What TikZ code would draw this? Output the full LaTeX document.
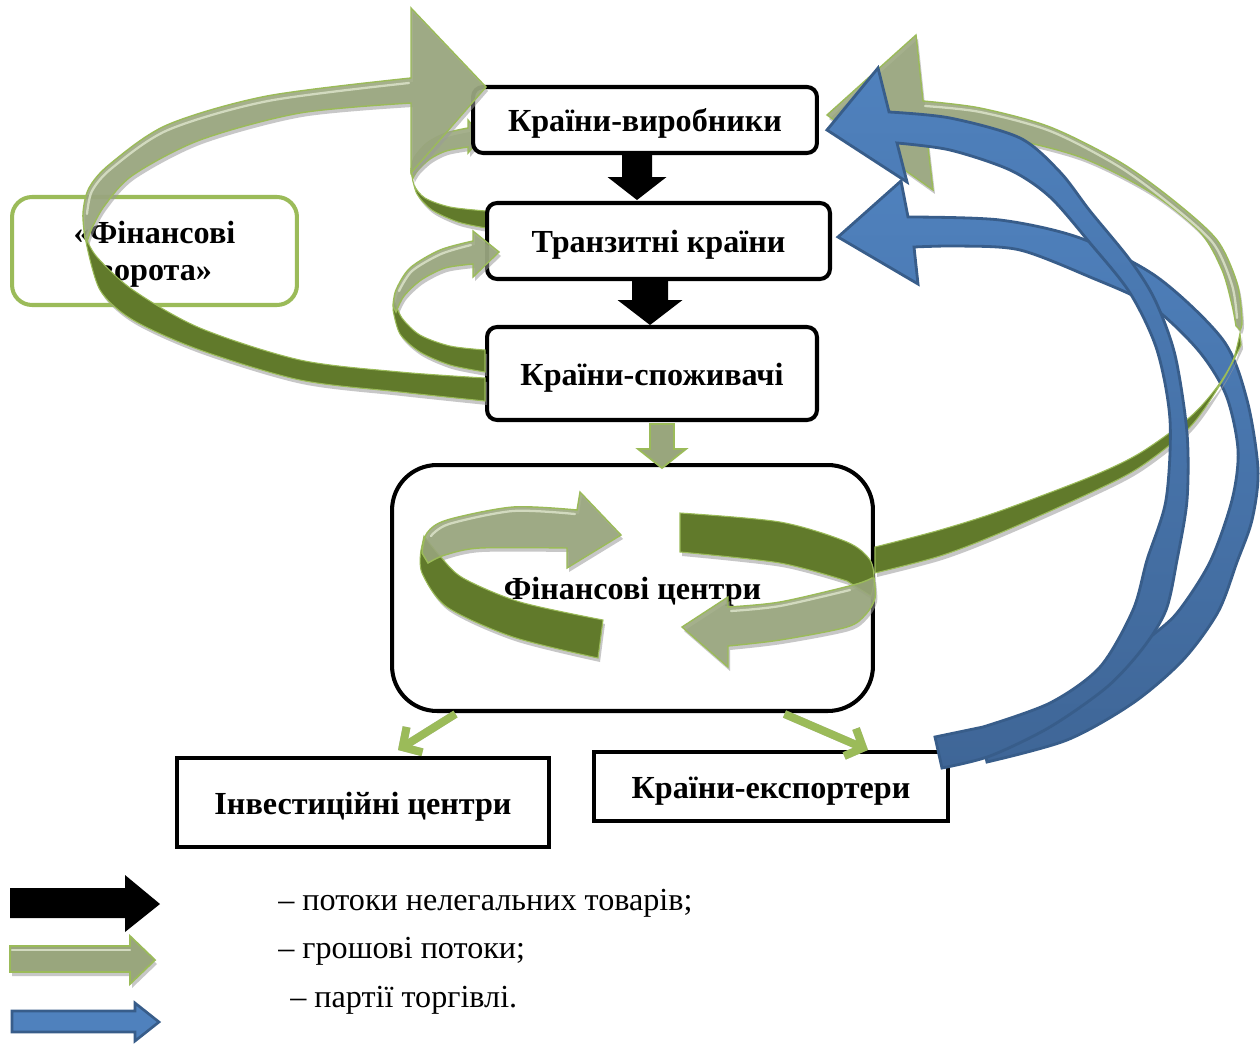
\documentclass[tikz,border=0pt]{standalone}
\usepackage{fontspec}
\setmainfont{Liberation Serif}
\usetikzlibrary{arrows.meta,calc}
\definecolor{gdark}{HTML}{617A2B}
\definecolor{glight}{HTML}{99A67D}
\definecolor{gedge}{HTML}{9BBB59}
\definecolor{ghigh}{HTML}{D2DABF}
\definecolor{blueL}{HTML}{4F81BD}
\definecolor{blueD}{HTML}{3F6697}
\definecolor{bborder}{HTML}{385D8A}
\definecolor{shadowgrey}{HTML}{9A9A9A}

% ribbon shapes (pixel coordinates)
\def\ribOneDark{plot[smooth] coordinates {(485,378) (400,372) (300,360) (200,328) (133,290) (97,257) (85,236)} -- plot[smooth] coordinates {(86,242) (100,290) (133,320) (200,350) (300,380) (400,392) (485,401)} -- cycle}
\def\ribOneLight{plot[smooth] coordinates {(85,238) (83,213) (89,188) (110,164) (167,125) (267,96) (411,78)} -- (411,8) -- (486,87) -- (411,173) -- plot[smooth] coordinates {(411,103) (300,113) (200,140) (133,175) (105,205) (92,228) (87,242)} -- cycle}
\def\ribOneHigh{plot[smooth] coordinates {(87,214) (92,191) (112,168) (168,130) (268,101) (409,83)}}
\def\ribTwoDark{plot[smooth] coordinates {(486,211) (450,207) (425,198) (414,185) (411,168)} -- plot[smooth] coordinates {(412,176) (417,194) (432,210) (458,222) (486,228)} -- cycle}
\def\ribTwoLight{plot[smooth] coordinates {(411,172) (414,158) (427,143) (446,133) (468,128)} -- (468,120) -- (482,137) -- (468,153) -- plot[smooth] coordinates {(468,147) (446,151) (430,159) (418,170) (413,178)} -- cycle}
\def\ribThreeDark{plot[smooth] coordinates {(485,350) (450,346) (420,335) (402,318) (394,300)} -- plot[smooth] coordinates {(393,310) (400,334) (420,352) (450,365) (485,372)} -- cycle}
\def\ribThreeLight{plot[smooth] coordinates {(393,306) (396,290) (410,268) (440,250) (473,241)} -- (473,231) -- (499,252) -- (473,277) -- plot[smooth] coordinates {(473,264) (445,268) (421,280) (404,296) (396,312)} -- cycle}
\def\ribThreeHigh{plot[smooth] coordinates {(399,291) (412,271) (441,254) (471,245)}}
\def\ribFourDark{plot[smooth] coordinates {(424,536) (440,556) (463,578) (520,602) (603,620)} -- plot[smooth] coordinates {(598,658) (513,637) (447,607) (422,573) (421,550)} -- cycle}
\def\ribFourLight{plot[smooth] coordinates {(422,553) (427,533) (447,520) (513,507) (577,510)} -- (580,492) -- (621,535) -- (567,568) -- plot[smooth] coordinates {(567,548) (480,548) (445,555) (428,563)} -- cycle}
\def\ribFourHigh{plot[smooth] coordinates {(431,536) (449,524) (513,511) (575,514)}}
\def\ribFiveDark{plot[smooth] coordinates {(680,513) (780,522) (847,542) (870,560) (874,580) (871,596)} -- plot[smooth] coordinates {(847,581) (780,563) (680,552)} -- cycle}
\def\ribFiveLight{plot[smooth] coordinates {(874,578) (875,598) (866,614) (847,627) (780,640) (728,646)} -- (728,667) -- (682,627) -- (728,597) -- plot[smooth] coordinates {(728,607) (780,602) (853,585) (872,578)} -- cycle}
\def\ribFiveHigh{plot[smooth] coordinates {(731,611) (780,606) (850,590)}}
\def\ribSixDark{plot[smooth] coordinates {(875,547) (940,530) (1000,511) (1090,477) (1140,453) (1190,417) (1217,387) (1233,360) (1240,333)} -- plot[smooth] coordinates {(1241,345) (1223,380) (1190,427) (1140,467) (1090,493) (1000,533) (940,556) (875,573)} -- cycle}
\def\ribSixLight{plot[smooth] coordinates {(1240,330) (1242,320) (1237,283) (1217,240) (1173,200) (1120,162) (1050,127) (980,108) (923,101)} -- (916,35) -- (827,115) -- (933,190) -- plot[smooth] coordinates {(926,130) (1000,137) (1080,157) (1150,192) (1200,232) (1222,270) (1232,305) (1236,326)} -- cycle}
\def\ribSixHigh{plot[smooth] coordinates {(925,106) (980,112) (1050,131) (1118,166) (1170,204) (1213,243) (1232,285) (1237,318)}}
\def\blueB{plot[smooth] coordinates {(908,217) (1000,220) (1080,238) (1157,277) (1223,340) (1247,400) (1258,470) (1252,520) (1237,562) (1218,612) (1183,660) (1133,703) (1067,740) (987,762)} -- (980,730) -- plot[smooth] coordinates {(1010,724) (1060,705) (1110,676) (1147,640) (1177,613) (1210,562) (1232,500) (1238,450) (1226,395) (1198,350) (1150,305) (1090,277) (1020,250) (960,246) (914,247)} -- (918,284) -- (838,237) -- (901,181) -- cycle}
\def\blueA{plot[smooth] coordinates {(889,112) (950,118) (1020,138) (1060,172) (1090,211) (1130,260) (1155,300) (1175,355) (1187,433) (1187,500) (1177,560) (1166,610) (1143,648) (1107,687) (1050,727) (990,756) (942,768)} -- (935,737) -- plot[smooth] coordinates {(983,727) (1050,703) (1100,667) (1133,610) (1147,560) (1166,500) (1170,420) (1157,350) (1130,293) (1090,243) (1050,197) (1010,170) (950,150) (897,143)} -- (907,182) -- (827,130) -- (878,68) -- cycle}

\begin{document}
\begin{tikzpicture}[x=0.02cm,y=-0.02cm,
  box/.style={draw=black, line width=2.3pt, fill=white, rounded corners=0.2cm,
    font=\fontsize{18.3}{22}\selectfont\bfseries, inner sep=0pt,
    text height=13.6pt, text depth=0pt},
  sqbox/.style={draw=black, line width=2.3pt, fill=white,
    font=\fontsize{18.3}{22}\selectfont\bfseries, inner sep=0pt,
    text height=13.6pt, text depth=0pt},
  darkrib/.style={fill=gdark, draw=gedge, line width=0.6pt},
  lightrib/.style={fill=glight, draw=gedge, line width=0.8pt, fill opacity=0.88},
  highlight/.style={draw=ghigh, line width=1.3pt, line cap=round},
  ribshadow/.style={fill=shadowgrey, fill opacity=0.55, shift={(2,4)}},
  bluerib/.style={draw=bborder, line width=1.6pt, top color=blueL, middle color=blueL, bottom color=blueD},
  legtext/.style={anchor=west, font=\fontsize{18.3}{22}\selectfont, inner sep=0pt},
  smallarrow/.style={draw=gedge, line width=4.5pt, -{Straight Barb[length=8pt,width=17pt]}},
  smallshadow/.style={draw=shadowgrey, draw opacity=0.6, line width=4.5pt, -{Straight Barb[length=8pt,width=17pt]}, shift={(2,4)}},
]
\useasboundingbox (0,0) rectangle (1260,1044);
\fill[white] (0,0) rectangle (1260,1044);

% ribbon behind the producers box
\fill[ribshadow] \ribTwoDark;
\fill[ribshadow] \ribTwoLight;
\path[darkrib] \ribTwoDark;
\path[lightrib] \ribTwoLight;

% boxes
\node[draw=gedge, line width=2.3pt, fill=white, rounded corners=0.4cm, inner sep=0pt,
  minimum width=5.7cm, minimum height=2.16cm, align=center, text depth=0pt,
  font=\fontsize{18.3}{21}\selectfont\bfseries] (gate) at (154.5,251) {«Фінансові\\ворота»};
\node[box, minimum width=6.88cm, minimum height=1.32cm] (vyr) at (645,120) {Країни-виробники};
\node[box, minimum width=6.86cm, minimum height=1.52cm] (tranz) at (658.5,241) {Транзитні країни};
\node[box, minimum width=6.6cm, minimum height=1.86cm] (spoz) at (652,373.5) {Країни-споживачі};
\node[box, rounded corners=0.9cm, minimum width=9.62cm, minimum height=4.92cm] (fin) at (632.5,588) {Фінансові центри};
\node[sqbox, minimum width=7.44cm, minimum height=1.78cm] (inv) at (363,802.5) {Інвестиційні центри};
\node[sqbox, minimum width=7.08cm, minimum height=1.38cm] (exp) at (771,786.5) {Країни-експортери};

% black block arrows (illegal goods)
\fill[black] ($(vyr.south)+(-8,0)$) +(-15,0) -- +(15,0) -- +(15,22) -- +(29.5,22) -- +(0,45) -- +(-29.5,22) -- +(-15,22) -- cycle;
\fill[black] ($(tranz.south)+(-8.5,0)$) +(-18,0) -- +(18,0) -- +(18,19) -- +(32.5,19) -- +(0,44) -- +(-32.5,19) -- +(-18,19) -- cycle;

% green block arrow consumers -> financial centres
\path[fill=glight, draw=gedge, line width=1pt] ($(spoz.south)+(10,2)$) +(-12,0) -- +(12,0) -- +(12,25) -- +(24,25) -- +(0,44) -- +(-24,25) -- +(-12,25) -- cycle;

% small green arrows out of the financial centres
\draw[smallshadow] ($(fin.south)+(-177,1)$) -- ($(inv.north)+(35,-6)$);
\draw[smallshadow] ($(fin.south)+(152,1)$) -- ($(exp.north)+(97,0)$);
\draw[smallarrow] ($(fin.south)+(-177,1)$) -- ($(inv.north)+(35,-6)$);
\draw[smallarrow] ($(fin.south)+(152,1)$) -- ($(exp.north)+(97,0)$);

% ribbons: financial gateway loop
\fill[ribshadow] \ribOneDark;
\fill[ribshadow] \ribOneLight;
\path[darkrib] \ribOneDark;
\path[lightrib] \ribOneLight;
\draw[highlight] \ribOneHigh;
% consumers -> transit
\fill[ribshadow] \ribThreeDark;
\fill[ribshadow] \ribThreeLight;
\path[darkrib] \ribThreeDark;
\path[lightrib] \ribThreeLight;
\draw[highlight] \ribThreeHigh;
% inside financial centres
\fill[ribshadow] \ribFourDark;
\fill[ribshadow] \ribFourLight;
\path[darkrib] \ribFourDark;
\path[lightrib] \ribFourLight;
\draw[highlight] \ribFourHigh;
\fill[ribshadow] \ribFiveDark;
\fill[ribshadow] \ribFiveLight;
\path[darkrib] \ribFiveDark;
\path[lightrib] \ribFiveLight;
\draw[highlight] \ribFiveHigh;

% right side: blue B, green loop, blue A
\path[bluerib] \blueB;
\fill[ribshadow] \ribSixDark;
\fill[ribshadow] \ribSixLight;
\path[darkrib] \ribSixDark;
\path[lightrib] \ribSixLight;
\draw[highlight] \ribSixHigh;
\path[bluerib] \blueA;

% legend
\coordinate (lg1) at (10,903);
\coordinate (lg2) at (10,959);
\coordinate (lg3) at (12,1021);
\fill[black] (lg1) +(0,-15) -- +(115,-15) -- +(115,-28) -- +(150,1) -- +(115,29) -- +(115,15) -- +(0,15) -- cycle;
\fill[shadowgrey, fill opacity=0.55] ($(lg2)+(2,4)$) +(0,-13) -- +(120,-13) -- +(120,-23) -- +(145,1) -- +(120,25) -- +(120,13) -- +(0,13) -- cycle;
\path[fill=glight, draw=gedge, line width=1pt] (lg2) +(0,-13) -- +(120,-13) -- +(120,-23) -- +(145,1) -- +(120,25) -- +(120,13) -- +(0,13) -- cycle;
\draw[highlight] ($(lg2)+(2,-9)$) -- ($(lg2)+(120,-9)$);
\path[fill=blueL, draw=bborder, line width=1.5pt] (lg3) +(0,-10) -- +(123,-10) -- +(123,-18) -- +(147,1) -- +(123,20) -- +(123,11) -- +(0,11) -- cycle;
\node[legtext] (l1) at (278,903) {– потоки нелегальних товарів;};
\node[legtext] (l2) at (278,951) {– грошові потоки;};
\node[legtext] (l3) at (290,1000) {– партії торгівлі.};
\end{tikzpicture}
\end{document}
